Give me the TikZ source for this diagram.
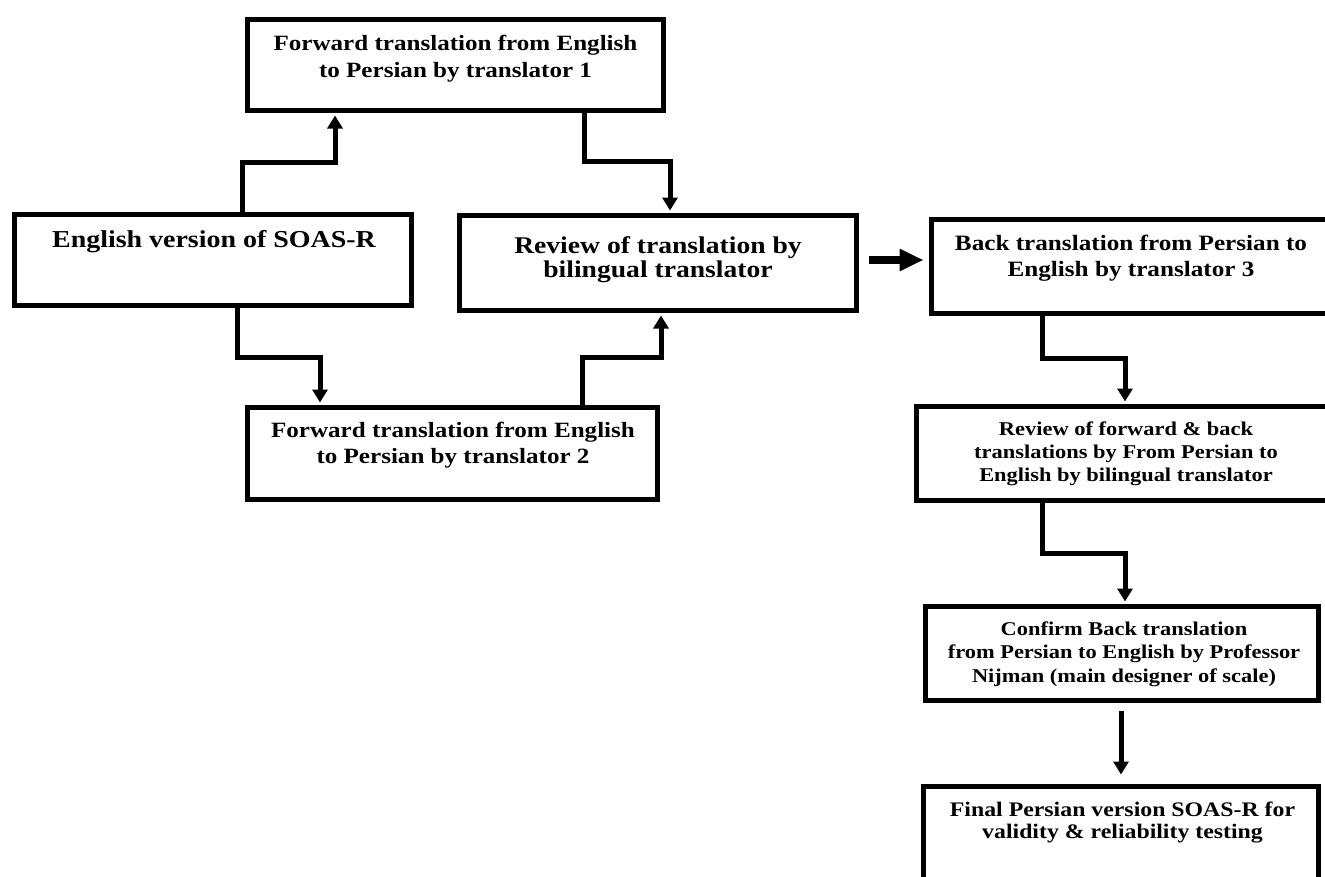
\documentclass[tikz,border=0pt]{standalone}
\usepackage{fontspec}
\setmainfont{Liberation Serif}[FakeStretch=1.15]
\usetikzlibrary{arrows.meta}
\tikzset{
  box/.style={draw=black, line width=5pt, fill=white, rectangle, inner sep=0pt},
  txt/.style={align=center, inner sep=0pt, anchor=base, text=black},
  conn/.style={line width=5pt, -{Triangle[width=15pt,length=13pt]}, shorten >=2.5pt},
  bigconn/.style={line width=8pt, -{Triangle[width=21pt,length=24pt]}, shorten <=9.5pt, shorten >=5.5pt}
}
\newcommand{\fs}[2]{\fontsize{#1}{#2}\selectfont\bfseries}
\begin{document}
\begin{tikzpicture}[x=1pt,y=-1pt]
\fill[white] (0,0) rectangle (1325,876);
\useasboundingbox (0,0) rectangle (1325,876);
% boxes
\node[box, minimum width=416pt, minimum height=91pt] (b1) at (455.5,65) {};
\node[box, minimum width=397pt, minimum height=91pt] (b2) at (213,260) {};
\node[box, minimum width=397pt, minimum height=95pt] (b3) at (658,263) {};
\node[box, minimum width=410pt, minimum height=92pt] (b4) at (452.5,453.5) {};
\node[box, minimum width=398pt, minimum height=94pt] (b5) at (1130.5,266.5) {};
\node[box, minimum width=413pt, minimum height=94pt] (b6) at (1123,453.5) {};
\node[box, minimum width=393pt, minimum height=94pt] (b7) at (1122,653.5) {};
\node[box, minimum width=395pt, minimum height=121pt] (b8) at (1121,847) {};
% texts (anchored at the baseline of their last line)
\node[txt, font=\fs{21.8}{27}] (t1) at (455.5,77) {Forward translation from English\\to Persian by translator 1};
\node[txt, font=\fs{24.3}{29}] (t2) at (214,247) {English version of SOAS-R};
\node[txt, font=\fs{24}{24}] (t3) at (658,277) {Review of translation by\\bilingual translator};
\node[txt, font=\fs{21.8}{26}] (t4) at (453,463) {Forward translation from English\\to Persian by translator 2};
\node[txt, font=\fs{21.9}{26}] (t5) at (1131,276) {Back translation from Persian to\\English by translator 3};
\node[txt, font=\fs{19.5}{23}] (t6) at (1126,481) {Review of forward \& back\\translations by From Persian to\\English by bilingual translator};
\node[txt, font=\fs{19.5}{23.5}] (t7) at (1124,682) {Confirm Back translation\\from Persian to English by Professor\\Nijman (main designer of scale)};
\node[txt, font=\fs{20.7}{22}] (t8) at (1122.5,838) {Final Persian version SOAS-R for\\validity \& reliability testing};
% connectors
\draw[conn] ([xshift=29pt]b2.north) |- (290,162) -| ([xshift=-120.5pt]b1.south);
\draw[conn] ([xshift=128.5pt]b1.south) |- (627,161) -| ([xshift=12pt]b3.north);
\draw[conn] ([xshift=24pt]b2.south) |- (280,357) -| ([xshift=-132.5pt]b4.north);
\draw[conn] ([xshift=129.5pt]b4.north) |- (620,357) -| ([xshift=3pt]b3.south);
\draw[bigconn] ([yshift=3pt]b3.east) -- ([yshift=6.5pt]b5.west);
\draw[conn] ([xshift=-88.5pt]b5.south) |- (1080,358) -| ([xshift=2pt]b6.north);
\draw[conn] ([xshift=-81pt]b6.south) |- (1080,553) -| ([xshift=3pt]b7.north);
\draw[conn, shorten <=7.5pt, shorten >=9.5pt] ([xshift=-1pt]b7.south) -- (b8.north);
\end{tikzpicture}
\end{document}
